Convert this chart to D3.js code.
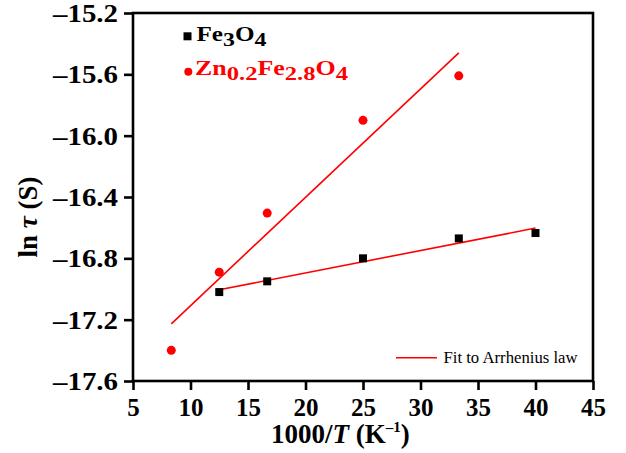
<!DOCTYPE html>
<html>
<head>
<meta charset="utf-8">
<script src="https://cdn.jsdelivr.net/npm/d3@7"></script>
<style>
  html, body { margin: 0; padding: 0; background: #fff; }
  svg { display: block; font-family: "Liberation Serif", "Times New Roman", serif; }
</style>
</head>
<body>
<svg id="chart" width="626" height="453"></svg>
<script>
// Relaxation time vs inverse temperature
const fe3o4X = [12.5, 16.67, 25, 33.33, 40];
const fe3o4Y = [-17.02, -16.95, -16.80, -16.67, -16.635];
const znX = [8.33, 12.5, 16.67, 25, 33.33];
const znY = [-17.40, -16.89, -16.505, -15.90, -15.61];

const xTicks = [5, 10, 15, 20, 25, 30, 35, 40, 45];
const yTicks = [-15.2, -15.6, -16.0, -16.4, -16.8, -17.2, -17.6];

const RED = "#ff0000";
const svg = d3.select("#chart");

const plotL = 133, plotR = 593, plotT = 13, plotB = 381;
const x = d3.scaleLinear().domain([5, 45]).range([plotL, plotR]);
const y = d3.scaleLinear().domain([-17.6, -15.2]).range([plotB, plotT]);

// Least-squares line through each series (Arrhenius fit in ln τ vs 1000/T)
function fit(xs, ys) {
  const mx = d3.mean(xs), my = d3.mean(ys);
  const sxy = d3.sum(xs, (v, i) => (v - mx) * (ys[i] - my));
  const sxx = d3.sum(xs, v => (v - mx) * (v - mx));
  const b = sxy / sxx, a = my - b * mx;
  const x0 = d3.min(xs), x1 = d3.max(xs);
  return [[x0, a + b * x0], [x1, a + b * x1]];
}

const line = d3.line().x(d => x(d[0])).y(d => y(d[1]));
svg.append("path").attr("d", line(fit(znX, znY)))
  .attr("fill", "none").attr("stroke", RED).attr("stroke-width", 1.6);
svg.append("path").attr("d", line(fit(fe3o4X, fe3o4Y)))
  .attr("fill", "none").attr("stroke", RED).attr("stroke-width", 1.6);

// Markers
svg.append("g").selectAll("rect").data(fe3o4X).join("rect")
  .attr("x", (d) => x(d) - 4).attr("y", (d, i) => y(fe3o4Y[i]) - 4)
  .attr("width", 8).attr("height", 8).attr("fill", "#000");
svg.append("g").selectAll("circle").data(znX).join("circle")
  .attr("cx", d => x(d)).attr("cy", (d, i) => y(znY[i]))
  .attr("r", 4.5).attr("fill", RED);

// Axes
const xAxis = svg.append("g").attr("transform", `translate(0,${plotB})`)
  .call(d3.axisBottom(x).tickValues(xTicks).tickSize(9).tickPadding(6).tickFormat(d3.format("d")));
const yAxis = svg.append("g").attr("transform", `translate(${plotL},0)`)
  .call(d3.axisLeft(y).tickValues(yTicks).tickSize(9).tickPadding(6)
    .tickFormat(d => d3.format(".1f")(d).replace(/[-\u2212]/, "\u2013")));

[xAxis, yAxis].forEach(g => {
  g.select(".domain").remove();
  g.attr("font-family", null).attr("font-size", null);
  g.selectAll(".tick line").attr("stroke", "#000").attr("stroke-width", 2.6);
  g.selectAll(".tick text").attr("fill", "#000")
    .attr("font-weight", "bold").attr("font-size", 25);
});
// y labels use wide glyphs: stretch horizontally about the right edge
const ySx = 1.16;
yAxis.selectAll(".tick text")
  .attr("x", -15 / ySx).attr("dy", "0.34em")
  .attr("transform", `scale(${ySx},1)`)
  .attr("textLength", 65 / ySx).attr("lengthAdjust", "spacingAndGlyphs");
xAxis.selectAll(".tick text").attr("dy", "0.78em");

// Plot frame
svg.append("rect").attr("x", plotL).attr("y", plotT)
  .attr("width", plotR - plotL).attr("height", plotB - plotT)
  .attr("fill", "none").attr("stroke", "#000").attr("stroke-width", 2.6);

// Axis titles
const yt = svg.append("text")
  .attr("transform", "translate(37,217) rotate(-90)")
  .attr("text-anchor", "middle").attr("font-weight", "bold").attr("font-size", 27);
yt.append("tspan").text("ln ");
yt.append("tspan").attr("font-style", "italic").text("\u03c4");
yt.append("tspan").text(" (S)");

const xt = svg.append("text").attr("x", 271).attr("y", 443)
  .attr("font-weight", "bold").attr("font-size", 27);
xt.append("tspan").text("1000/");
xt.append("tspan").attr("font-style", "italic").text("T");
xt.append("tspan").text(" (K");
xt.append("tspan").attr("font-size", 15).attr("dy", -11).text("\u20131");
xt.append("tspan").attr("dy", 11).text(")");

// Legend: series
svg.append("rect").attr("x", 183.5).attr("y", 32.3).attr("width", 8).attr("height", 8).attr("fill", "#000");
svg.append("circle").attr("cx", 188.3).attr("cy", 71.7).attr("r", 4).attr("fill", RED);

const legSx = 1.24;
function chem(parts, px, py, color, len) {
  const t = svg.append("text")
    .attr("transform", `translate(${px},${py}) scale(${legSx},1)`)
    .attr("font-weight", "bold").attr("font-size", 20).attr("fill", color)
    .attr("textLength", len / legSx).attr("lengthAdjust", "spacingAndGlyphs");
  let prev = false;
  parts.forEach(([s, sub]) => {
    const dy = sub && !prev ? 5 : (!sub && prev ? -5 : 0);
    t.append("tspan").attr("dy", dy).attr("font-size", sub ? 19 : 20).text(s);
    prev = sub;
  });
}
chem([["Fe", false], ["3", true], ["O", false], ["4", true]], 196.5, 40.7, "#000", 70);
chem([["Zn", false], ["0.2", true], ["Fe", false], ["2.8", true], ["O", false], ["4", true]], 195, 75, RED, 153);

// Legend: fit line
svg.append("line").attr("x1", 396).attr("x2", 437).attr("y1", 357.7).attr("y2", 357.7)
  .attr("stroke", RED).attr("stroke-width", 1.6);
svg.append("text").attr("x", 443.5).attr("y", 362.7)
  .attr("font-size", 16).attr("fill", "#000")
  .attr("textLength", 134).attr("lengthAdjust", "spacingAndGlyphs")
  .text("Fit to Arrhenius law");
</script>
</body>
</html>
